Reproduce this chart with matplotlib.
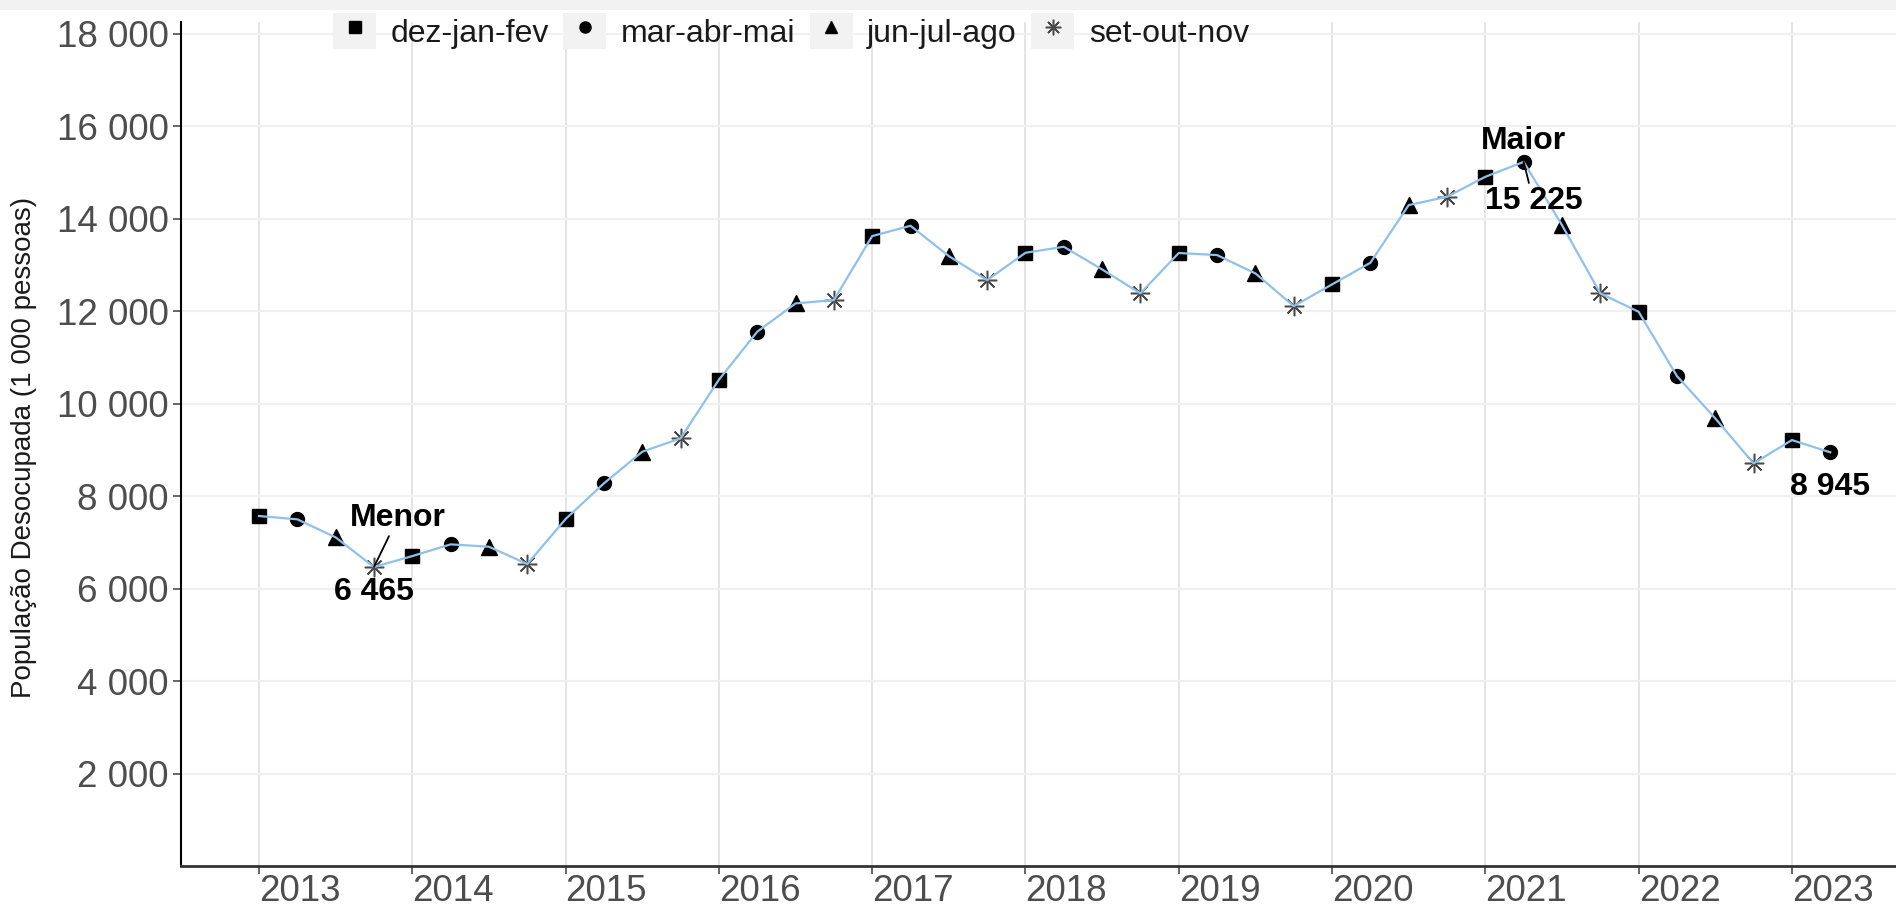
"""
População desocupada por trimestre móvel (PNAD Contínua), 2013-2023
"""
import matplotlib
matplotlib.use('Agg')
import matplotlib.pyplot as plt
from matplotlib.lines import Line2D
from matplotlib.patches import Rectangle
from matplotlib.legend_handler import HandlerTuple
from matplotlib.ticker import FuncFormatter

plt.rcParams['font.family'] = ['Liberation Sans', 'DejaVu Sans']

# dados (1 000 pessoas), um ponto por trimestre
anos = [2013, 2014, 2015, 2016, 2017, 2018, 2019, 2020, 2021, 2022, 2023]
trimestres = ['dez-jan-fev', 'mar-abr-mai', 'jun-jul-ago', 'set-out-nov']
desocupados = [
    7568, 7496, 7106, 6465,      # 2013
    6702, 6955, 6904, 6529,      # 2014
    7502, 8274, 8958, 9247,      # 2015
    10515, 11552, 12165, 12237,  # 2016
    13621, 13844, 13188, 12669,  # 2017
    13260, 13390, 12900, 12382,  # 2018
    13255, 13210, 12814, 12107,  # 2019
    12576, 13044, 14291, 14471,  # 2020
    14903, 15225, 13858, 12382,  # 2021
    11984, 10594, 9679, 8706,    # 2022
    9210, 8945,                  # 2023
]
y_ticks = [2000, 4000, 6000, 8000, 10000, 12000, 14000, 16000, 18000]

# posição de cada ponto no eixo do tempo
x = [anos[0] + i * 0.25 for i in range(len(desocupados))]
tri = [trimestres[i % 4] for i in range(len(desocupados))]

estilos = {
    'dez-jan-fev': dict(marker='s', ms=10, color='black'),
    'mar-abr-mai': dict(marker='o', ms=10, color='black'),
    'jun-jul-ago': dict(marker='^', ms=11, color='black'),
    'set-out-nov': dict(marker=(8, 2, 0), ms=14, color='#4a4a4a', mew=1.1),
}

W, H = 1896, 910
fig = plt.figure(figsize=(W / 100, H / 100), dpi=100)
fig.patches.append(Rectangle((0, 1 - 10 / H), 1, 10 / H, transform=fig.transFigure,
                             facecolor='#f2f2f2', edgecolor='none', zorder=0))
ax = fig.add_axes([181 / W, 1 - 866 / H, (W - 181) / W, (866 - 22) / H])

for t in trimestres:
    xs = [xi for xi, ti in zip(x, tri) if ti == t]
    ys = [yi for yi, ti in zip(desocupados, tri) if ti == t]
    ax.plot(xs, ys, linestyle='none', zorder=3, **estilos[t])

ax.plot(x, desocupados, color='#8fc1ea', linewidth=1.6, zorder=4)

# anotações: menor, maior e último valor
fmt = lambda v: f"{v:,.0f}".replace(',', ' ')
i_min = desocupados.index(min(desocupados))
i_max = desocupados.index(max(desocupados))
txt = dict(fontsize=23, fontweight='bold', color='black', ha='center', va='center',
           textcoords='offset points', zorder=6)
linha = dict(arrowstyle='-', color='black', lw=1.3, shrinkA=0, shrinkB=0)

ax.annotate('Menor', xy=(x[i_min], desocupados[i_min]), xytext=(17, 35),
            arrowprops=linha, **txt)
ax.annotate(fmt(desocupados[i_min]), xy=(x[i_min], desocupados[i_min]), xytext=(0, -18), **txt)
ax.annotate('Maior', xy=(x[i_max], desocupados[i_max]), xytext=(0, 15), **txt)
ax.annotate(fmt(desocupados[i_max]), xy=(x[i_max], desocupados[i_max]), xytext=(7, -28),
            arrowprops=linha, **txt)
ax.annotate(fmt(desocupados[-1]), xy=(x[-1], desocupados[-1]), xytext=(0, -25), **txt)

# eixos
ax.set_xlim(2012.491, 2023.679)
ax.set_ylim(0, 18250)
ax.set_xticks(anos)
ax.set_xticklabels([str(a) for a in anos])
for lbl in ax.get_xticklabels():
    lbl.set_ha('left')
ax.set_yticks(y_ticks)
ax.yaxis.set_major_formatter(FuncFormatter(lambda v, p: fmt(v)))
ax.tick_params(axis='both', labelsize=26.5, colors='#4d4d4d', length=6, width=1.2)
ax.tick_params(axis='x', pad=0)
ax.tick_params(axis='y', pad=3)
for lbl in ax.get_xticklabels() + ax.get_yticklabels():
    lbl.set_color('#4d4d4d')

ax.grid(axis='x', color='#dedede', linewidth=1.1)
ax.grid(axis='y', color='#f0f0f0', linewidth=1.6)
ax.set_axisbelow(True)
for s in ['top', 'right']:
    ax.spines[s].set_visible(False)
ax.spines['left'].set_linewidth(1.5)
ax.spines['bottom'].set_linewidth(2.0)
ax.spines['bottom'].set_color('#333333')
ax.spines['left'].set_color('black')

ax.set_ylabel('População Desocupada (1 000 pessoas)', fontsize=20, color='#1a1a1a')
ax.yaxis.label.set_va('center')
ax.yaxis.set_label_coords(24 / W, 1 - 447 / H, transform=fig.transFigure)

# legenda com fundo cinza em cada chave
handles = []
for t in trimestres:
    st = dict(estilos[t])
    st['ms'] = st['ms'] * 0.8
    handles.append((Rectangle((0, 0), 1, 1, facecolor='#f2f2f2', edgecolor='none'),
                    Line2D([], [], linestyle='none', **st)))
fig.legend(handles, trimestres, handler_map={tuple: HandlerTuple(ndivide=1)},
           loc='center', bbox_to_anchor=(791 / W, 1 - 31 / H), ncol=4, frameon=False,
           fontsize=23, handlelength=1.35, handleheight=1.35, handletextpad=0.45,
           columnspacing=0.45, borderpad=0, labelcolor='#1a1a1a')

plt.savefig('out.png', dpi=100)
